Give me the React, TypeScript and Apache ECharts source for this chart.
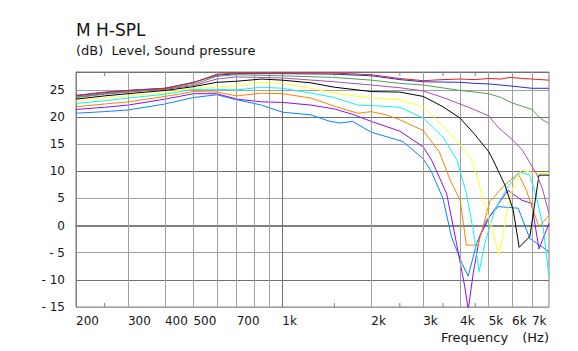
import React, { useEffect, useRef } from 'react';
import * as echarts from 'echarts';

// ---- axis definitions ----
const Y_MIN = -15;
const Y_MAX = 28.3;
const F_MIN = 200;
const F_MAX = 8000;
const FREQ_LABELS = [200, 300, 400, 500, 700, 1000, 2000, 3000, 4000, 5000, 6000, 7000];
const GRID_FREQS = [300, 400, 500, 600, 700, 800, 900, 1000, 2000, 3000, 4000, 5000, 6000, 7000];
const MINOR_TICKS = [250, 1500, 2500, 3500, 4500];

// ---- measured curves: [frequency Hz, level dB] ----
const deg0: [number, number][] = [[200,24.0],[250,24.6],[300,24.9],[400,25.3],[500,26.3],[600,27.9],[700,28.1],[1000,28.1],[1500,28.1],[2000,27.8],[2500,27.1],[3000,26.7],[3500,26.9],[4000,27.0],[4500,26.9],[5000,27.1],[5500,27.0],[5900,27.3],[6500,27.1],[7000,27.0],[8000,26.8]];
const deg10: [number, number][] = [[200,23.9],[250,24.5],[300,24.9],[400,25.3],[500,26.4],[600,27.7],[700,28.0],[1000,28.0],[1500,27.9],[2000,27.6],[2500,26.9],[3000,26.5],[4000,26.4],[4500,26.2],[5000,26.1],[6000,25.7],[7000,25.3],[8000,25.3]];
const deg20: [number, number][] = [[200,23.7],[250,24.3],[300,24.7],[400,25.2],[500,26.0],[600,27.5],[700,27.8],[1000,27.6],[1500,27.3],[2000,26.8],[2500,26.2],[3000,25.9],[4000,24.9],[5000,24.3],[5500,23.6],[6000,22.6],[7000,21.4],[7500,19.7],[8000,18.8]];
const deg30: [number, number][] = [[200,23.6],[250,24.2],[300,24.6],[400,25.1],[500,25.8],[600,27.0],[700,27.4],[1000,27.2],[1500,26.5],[2000,25.9],[2500,25.4],[3000,24.8],[3500,23.6],[4000,22.4],[4500,21.3],[5000,20.2],[5400,18.0],[6000,15.9],[6500,13.9],[7250,9.6],[7600,6.8],[8000,2.2]];
const deg40: [number, number][] = [[200,23.3],[250,23.9],[300,24.3],[400,24.9],[500,25.6],[600,26.4],[700,26.6],[850,27.0],[1000,26.8],[1250,26.3],[1500,25.5],[2000,24.7],[2500,24.6],[3000,23.8],[3500,21.9],[4000,19.8],[4500,16.7],[5000,13.6],[5170,12.1],[5670,7.5],[6050,2.9],[6340,-4.0],[6890,-2.0],[7400,9.3],[8000,9.3]];
const deg50: [number, number][] = [[200,23.0],[250,23.5],[300,23.9],[400,24.5],[500,25.3],[600,25.5],[700,25.7],[850,26.4],[1000,26.2],[1250,25.3],[1500,24.4],[2000,23.5],[2500,23.2],[3000,21.9],[3500,18.3],[4000,14.9],[4370,12.1],[4550,9.3],[4725,5.9],[5040,1.0],[5420,-5.4],[5810,3.5],[6050,7.2],[6450,10.2],[7250,9.6],[8000,9.6]];
const deg60: [number, number][] = [[200,22.5],[250,23.0],[300,23.5],[400,24.2],[500,25.1],[600,25.1],[700,25.0],[850,25.5],[1000,25.3],[1250,24.4],[1500,23.6],[1800,22.2],[2000,22.1],[2500,21.8],[3000,19.8],[3500,16.3],[3900,12.1],[4200,5.9],[4430,-0.8],[4640,-8.5],[4850,-3.3],[5240,2.9],[5810,7.2],[6370,9.9],[6880,9.3],[7250,5.3],[7640,-0.2],[8000,-9.5]];
const deg70: [number, number][] = [[200,21.9],[250,22.4],[300,22.8],[400,23.8],[500,24.7],[600,24.6],[700,23.9],[850,24.4],[1000,24.3],[1250,23.5],[1500,22.0],[1800,20.7],[2000,21.0],[2250,20.4],[2500,19.5],[3000,17.5],[3400,13.6],[3700,8.4],[4000,4.7],[4200,-3.6],[4600,-3.6],[5040,4.4],[5600,7.2],[6290,9.6],[6710,6.5],[7060,2.9],[7400,-0.2],[8000,1.9]];
const deg80: [number, number][] = [[200,21.4],[250,21.8],[300,22.2],[400,23.3],[500,24.3],[600,24.3],[700,23.3],[850,22.8],[1000,22.7],[1250,22.2],[1500,21.5],[1750,20.4],[2000,19.2],[2500,17.4],[3000,14.5],[3200,12.1],[3600,5.9],[3890,-3.3],[4150,-11.3],[4260,-15.5],[4430,-8.8],[4660,-2.0],[5040,1.7],[5810,6.5],[6450,4.7],[6980,4.1],[7400,-4.3],[8000,0.4]];
const deg90: [number, number][] = [[200,20.7],[250,21.0],[300,21.3],[400,22.4],[500,23.6],[600,24.1],[700,23.2],[850,22.2],[1000,20.9],[1250,20.4],[1450,19.2],[1570,18.9],[1730,19.2],[2000,17.2],[2560,15.5],[3000,12.3],[3200,9.9],[3500,5.0],[3740,-2.1],[4060,-7.0],[4260,-9.3],[4550,-3.3],[4910,1.0],[5380,3.5],[6290,3.2],[6890,-2.4],[8000,-4.8]];

const CURVES = [
  { name: '90°', data: deg90, color: '#0a80ff' },
  { name: '80°', data: deg80, color: '#8a10f0' },
  { name: '70°', data: deg70, color: '#ff8000' },
  { name: '60°', data: deg60, color: '#10f0f8' },
  { name: '50°', data: deg50, color: '#ffff30' },
  { name: '40°', data: deg40, color: '#000000' },
  { name: '30°', data: deg30, color: '#a850b0' },
  { name: '20°', data: deg20, color: '#50a050' },
  { name: '10°', data: deg10, color: '#2030e0' },
  { name: '0°', data: deg0, color: '#e02020' },
];

const FONT = 'DejaVu Sans';
const TEXT_COLOR = '#151515';
const LIGHT = '#a0a0a0';
const DARK = '#707070';

export default function App() {
  const ref = useRef<HTMLDivElement>(null);
  useEffect(() => {
    if (!ref.current) return;
    const chart = echarts.init(ref.current, null, { renderer: 'svg' });
    const option: any = {
      animation: false,
      backgroundColor: '#ffffff',
      textStyle: { fontFamily: FONT },
      title: [
        { text: 'M H-SPL', left: 76, top: 21, padding: 0, textStyle: { fontSize: 17, fontWeight: 'normal', color: TEXT_COLOR, fontFamily: FONT } },
        { text: '(dB)  Level, Sound pressure', left: 76, top: 44, padding: 0, textStyle: { fontSize: 13, fontWeight: 'normal', color: TEXT_COLOR, fontFamily: FONT } },
        { text: 'Frequency', left: 441, top: 330.5, padding: 0, textStyle: { fontSize: 13, fontWeight: 'normal', color: TEXT_COLOR, fontFamily: FONT } },
        { text: '(Hz)', right: 29, top: 330.5, padding: 0, textStyle: { fontSize: 13, fontWeight: 'normal', color: TEXT_COLOR, fontFamily: FONT } },
      ],
      grid: { left: 76, top: 72, width: 473, height: 235, show: true, borderColor: '#808080', borderWidth: 1, backgroundColor: '#ffffff' },
      xAxis: {
        type: 'log', logBase: 10, min: F_MIN, max: F_MAX,
        axisLine: { show: true, lineStyle: { color: '#808080', width: 2 } },
        axisTick: { show: false },
        splitLine: { show: false },
        minorTick: { show: false },
        minorSplitLine: { show: false },
        axisLabel: {
          customValues: FREQ_LABELS,
          formatter: (v: number) => (v >= 1000 ? `${Math.round(v / 1000)}k` : `${Math.round(v)}`),
          align: 'left', margin: 8, color: TEXT_COLOR, fontSize: 12, fontFamily: FONT,
          showMinLabel: true, showMaxLabel: true,
        },
      },
      yAxis: {
        type: 'value', min: Y_MIN, max: Y_MAX, interval: 5,
        axisLine: { show: true, lineStyle: { color: '#808080', width: 1 } },
        axisTick: { show: false },
        splitLine: { show: true, lineStyle: { color: [LIGHT, DARK], width: 1 } },
        axisLabel: {
          showMaxLabel: false,
          formatter: (v: number) => (v < 0 ? `- ${Math.abs(v)}` : `${v}`),
          margin: 11, color: TEXT_COLOR, fontSize: 12, fontFamily: FONT,
        },
      },
      series: [
        {
          type: 'line', name: 'grid', data: [], silent: true, z: 1,
          markLine: {
            silent: true, symbol: ['none', 'none'], label: { show: false }, animation: false,
            emphasis: { disabled: true },
            data: GRID_FREQS.map((f) => ({ xAxis: f, lineStyle: { color: f === 1000 ? DARK : LIGHT, width: 1, type: 'solid' } })),
          },
        },
        {
          type: 'custom', name: 'ticks', silent: true, z: 1,
          data: MINOR_TICKS.map((f) => [f, 0]),
          encode: { x: 0, y: 1 },
          renderItem: (_p: any, api: any) => {
            const f = api.value(0);
            const top = api.coord([f, Y_MAX]);
            const bot = api.coord([f, Y_MIN]);
            const st = { stroke: '#808080', lineWidth: 1 };
            return {
              type: 'group',
              children: [
                { type: 'line', shape: { x1: top[0], y1: top[1], x2: top[0], y2: top[1] + 4 }, style: st },
                { type: 'line', shape: { x1: bot[0], y1: bot[1], x2: bot[0], y2: bot[1] - 4 }, style: st },
              ],
            };
          },
        },
        ...CURVES.map((c, i) => ({
          type: 'line', name: c.name, data: c.data, showSymbol: false, symbol: 'none',
          lineStyle: { color: c.color, width: 1 }, itemStyle: { color: c.color },
          z: 3 + i, clip: true, silent: true,
        })),
      ],
    };
    chart.setOption(option);
    return () => chart.dispose();
  }, []);
  return <div ref={ref} style={{ position: 'absolute', left: 0, top: 0, width: 578, height: 351 }} />;
}
